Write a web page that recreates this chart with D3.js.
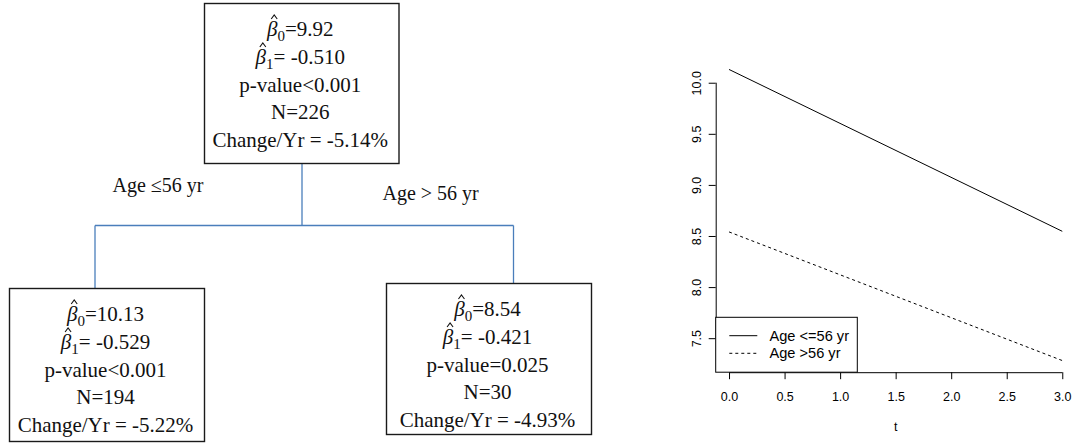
<!DOCTYPE html>
<html>
<head>
<meta charset="utf-8">
<script src="https://cdn.jsdelivr.net/npm/d3@7"></script>
<style>
  html, body { margin: 0; padding: 0; background: #fff; }
  svg { display: block; }
</style>
</head>
<body>
<svg id="chart" width="1074" height="444"></svg>
<script>
// ---------------- DATA ----------------
// Regression tree nodes
const nodeNames   = ["root", "young", "old"];
const beta0       = ["9.92", "10.13", "8.54"];
const beta1       = ["-0.510", "-0.529", "-0.421"];
const pValues     = ["p-value<0.001", "p-value<0.001", "p-value=0.025"];
const nValues     = ["N=226", "N=194", "N=30"];
const changeYr    = ["Change/Yr = -5.14%", "Change/Yr = -5.22%", "Change/Yr = -4.93%"];
const splitLabels = ["Age \u226456 yr", "Age > 56 yr"];

// Fitted lines plot
const tValues     = [0, 3];
const seriesNames = ["Age <=56 yr", "Age >56 yr"];
const seriesYoung = [10.13, 8.546];
const seriesOld   = [8.54, 7.281];
const xTicks      = [0, 0.5, 1, 1.5, 2, 2.5, 3];
const yTicks      = [7.5, 8, 8.5, 9, 9.5, 10];
const xTitle      = "t";

// ---------------- LAYOUT ----------------
const svg = d3.select("#chart");
const serif = "'Liberation Serif', 'Times New Roman', serif";
const sans = "'Liberation Sans', Arial, sans-serif";
const blue = "#4a7ebb";

const boxes = [
  {x: 204.5, y: 3.5, w: 194.5, h: 160},
  {x: 9.5, y: 288.5, w: 195, h: 153},
  {x: 386.5, y: 283.5, w: 205, h: 151}
];

// connectors
const tree = svg.append("g");
const root = boxes[0], L = boxes[1], R = boxes[2];
const busY = 225.5;
const connectors = [
  [[302, root.y + root.h], [302, busY]],
  [[95, busY], [513.5, busY]],
  [[95, busY], [95, L.y]],
  [[513.5, busY], [513.5, R.y]]
];
tree.selectAll("path.conn").data(connectors).join("path")
  .attr("class", "conn")
  .attr("d", d => d3.line()(d))
  .attr("stroke", blue).attr("stroke-width", 1.3).attr("fill", "none");

// split labels
const splitPos = [{x: 112.5, y: 192}, {x: 382.5, y: 200}];
tree.selectAll("text.split").data(splitLabels).join("text")
  .attr("class", "split")
  .attr("x", (d, i) => splitPos[i].x)
  .attr("y", (d, i) => splitPos[i].y)
  .attr("font-family", serif).attr("font-size", 20)
  .attr("fill", "#111")
  .text(d => d);

const fs = 21;
const lineOffsets = [32, 60, 88, 115.5, 143];
const hatLift = 20.5;

nodeNames.forEach((name, i) => {
  const b = boxes[i];
  const g = tree.append("g");
  g.append("rect").attr("x", b.x).attr("y", b.y).attr("width", b.w).attr("height", b.h)
    .attr("fill", "#fff").attr("stroke", "#1a1a1a").attr("stroke-width", 1.4);
  const cx = b.x + b.w / 2 - 1.5;

  // beta lines
  [[0, beta0[i], "="], [1, beta1[i], "= "]].forEach(([k, val, eq]) => {
    const base = b.y + lineOffsets[k];
    const t = g.append("text")
      .attr("x", cx).attr("y", base)
      .attr("text-anchor", "middle")
      .attr("font-family", serif).attr("font-size", fs).attr("fill", "#111");
    t.append("tspan").attr("font-style", "italic").text("\u03B2");
    t.append("tspan").attr("font-size", 15).attr("dy", 5).text(String(k));
    t.append("tspan").attr("dy", -5).text(eq + val);
    // hat accent above the beta
    const ext = t.node().getExtentOfChar(0);
    const hx = ext.x + ext.width / 2 + 2;
    const hy = base - hatLift;
    g.append("path")
      .attr("d", d3.line()([[hx - 3, hy + 4], [hx, hy], [hx + 3, hy + 4]]))
      .attr("fill", "none").attr("stroke", "#111").attr("stroke-width", 1.1);
  });

  [pValues[i], nValues[i], changeYr[i]].forEach((s, j) => {
    g.append("text")
      .attr("x", cx).attr("y", b.y + lineOffsets[j + 2])
      .attr("text-anchor", "middle")
      .attr("font-family", serif).attr("font-size", fs).attr("fill", "#111")
      .text(s);
  });
});

// ---------------- LINE PLOT ----------------
const plotLeft = 715.7, plotRight = 1075.6, plotTop = 57.8, plotBottom = 372.2;
const allY = seriesYoung.concat(seriesOld);
const yMin = d3.min(allY), yMax = d3.max(allY);
const yPad = (yMax - yMin) * 0.04;
const xPad = (d3.max(tValues) - d3.min(tValues)) * 0.04;
const x = d3.scaleLinear().domain([d3.min(tValues) - xPad, d3.max(tValues) + xPad]).range([plotLeft, plotRight]);
const y = d3.scaleLinear().domain([yMin - yPad, yMax + yPad]).range([plotBottom, plotTop]);

const plot = svg.append("g");

// series lines
const series = [
  {name: seriesNames[0], vals: seriesYoung, dash: null},
  {name: seriesNames[1], vals: seriesOld, dash: "3,3"}
];
const line = d3.line().x(d => x(d[0])).y(d => y(d[1]));
plot.selectAll("path.series").data(series).join("path")
  .attr("class", "series")
  .attr("d", s => line(tValues.map((t, k) => [t, s.vals[k]])))
  .attr("fill", "none").attr("stroke", "#000").attr("stroke-width", 1)
  .attr("stroke-dasharray", s => s.dash);

// x axis
const xAxis = d3.axisBottom(x).tickValues(xTicks).tickSize(7).tickSizeOuter(0)
  .tickFormat(d3.format(".1f"));
const gx = plot.append("g").attr("transform", `translate(0,${plotBottom})`).call(xAxis);
gx.select(".domain").remove();
gx.append("line").attr("x1", x(xTicks[0])).attr("x2", x(xTicks[xTicks.length - 1]))
  .attr("y1", 0.5).attr("y2", 0.5).attr("stroke", "#000");
gx.selectAll(".tick line").attr("stroke", "#000");
gx.selectAll(".tick text").attr("font-family", sans).attr("font-size", 12.5)
  .attr("fill", "#000").attr("y", 0).attr("dy", null).attr("transform", "translate(0,28.5)");

// y axis
const yAxis = d3.axisLeft(y).tickValues(yTicks).tickSize(7).tickSizeOuter(0)
  .tickFormat(d3.format(".1f"));
const gy = plot.append("g").attr("transform", `translate(${plotLeft},0)`).call(yAxis);
gy.select(".domain").remove();
gy.append("line").attr("y1", y(yTicks[0])).attr("y2", y(yTicks[yTicks.length - 1]))
  .attr("x1", 0.5).attr("x2", 0.5).attr("stroke", "#000");
gy.selectAll(".tick line").attr("stroke", "#000");
gy.selectAll(".tick text").attr("font-family", sans).attr("font-size", 12.5)
  .attr("fill", "#000").attr("x", 0).attr("dy", null)
  .attr("text-anchor", "middle")
  .attr("transform", "translate(-14.5,0) rotate(-90)");

// x title
plot.append("text").attr("x", (plotLeft + plotRight) / 2).attr("y", 431)
  .attr("text-anchor", "middle").attr("font-family", sans).attr("font-size", 12.5)
  .attr("fill", "#000").text(xTitle);

// legend
const lg = plot.append("g");
lg.append("rect").attr("x", plotLeft).attr("y", 317.3)
  .attr("width", 141.6).attr("height", plotBottom - 317.3)
  .attr("fill", "#fff").attr("stroke", "#000").attr("stroke-width", 1);
const legRows = lg.selectAll("g.row").data(series).join("g")
  .attr("class", "row")
  .attr("transform", (d, i) => `translate(0,${335.7 + i * 17.6})`);
legRows.append("line").attr("x1", 729.3).attr("x2", 757.3)
  .attr("stroke", "#000").attr("stroke-width", 1)
  .attr("stroke-dasharray", d => d.dash);
legRows.append("text").attr("x", 769.5).attr("y", 5)
  .attr("font-family", sans).attr("font-size", 14.6).attr("fill", "#000")
  .text(d => d.name);
</script>
</body>
</html>
